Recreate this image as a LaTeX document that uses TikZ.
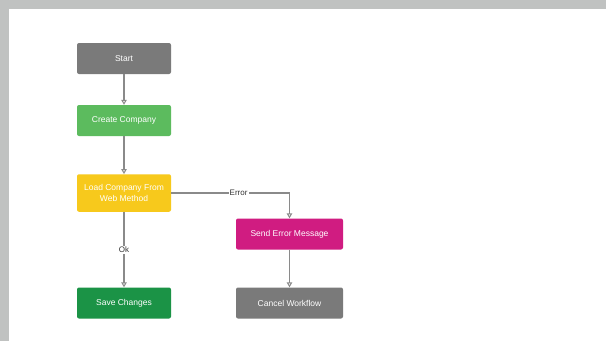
\documentclass[tikz,border=0pt]{standalone}
\usepackage{fontspec}
\setmainfont{Liberation Sans}
\usetikzlibrary{arrows.meta}
\definecolor{frame}{HTML}{C0C2C1}
\definecolor{cgray}{HTML}{7A7A7A}
\definecolor{cgreen}{HTML}{5CBB5E}
\definecolor{cyellow}{HTML}{F7C91C}
\definecolor{cmagenta}{HTML}{D01C81}
\definecolor{cdgreen}{HTML}{1B9346}
\definecolor{cline}{HTML}{8A8A8A}
\tikzset{
  box/.style={rectangle, rounded corners=2pt, minimum width=94pt, minimum height=31pt,
    text=white, font=\fontsize{8.5}{10.5}\selectfont, align=center, inner sep=1pt},
  wbox/.style={box, minimum width=107pt},
  conn/.style={draw=cline, line width=1.3pt, -{Triangle[open, length=5pt, width=5.5pt, line width=1pt]}},
  lbl/.style={fill=white, text=black!80, font=\fontsize{8}{9}\selectfont, inner sep=1pt}
}
\begin{document}
\begin{tikzpicture}[x=1pt, y=-1pt]
\fill[frame] (0,0) rectangle (606,341);
\fill[white] (9,9) rectangle (606,341);
\useasboundingbox (0,0) rectangle (606,341);
\node[box, fill=cgray] (start) at (124,58.5) {Start};
\node[box, fill=cgreen] (create) at (124,120.5) {Create Company};
\node[box, fill=cyellow, minimum height=37.5pt] (load) at (124,193) {Load Company From\\Web Method};
\node[wbox, fill=cmagenta] (send) at (289.5,234) {Send Error Message};
\node[box, fill=cdgreen] (save) at (124,303) {Save Changes};
\node[wbox, fill=cgray] (cancel) at (289.5,303) {Cancel Workflow};
\draw[conn] (start) -- (create);
\draw[conn] (create) -- (load);
\draw[conn] (load) -- node[lbl, pos=0.5] {Ok} (save);
\draw[conn] (load.east) -- (send.north |- load.east) node[lbl, pos=0.57] {Error} -- (send.north);
\draw[conn] (send) -- (cancel);
\end{tikzpicture}
\end{document}
